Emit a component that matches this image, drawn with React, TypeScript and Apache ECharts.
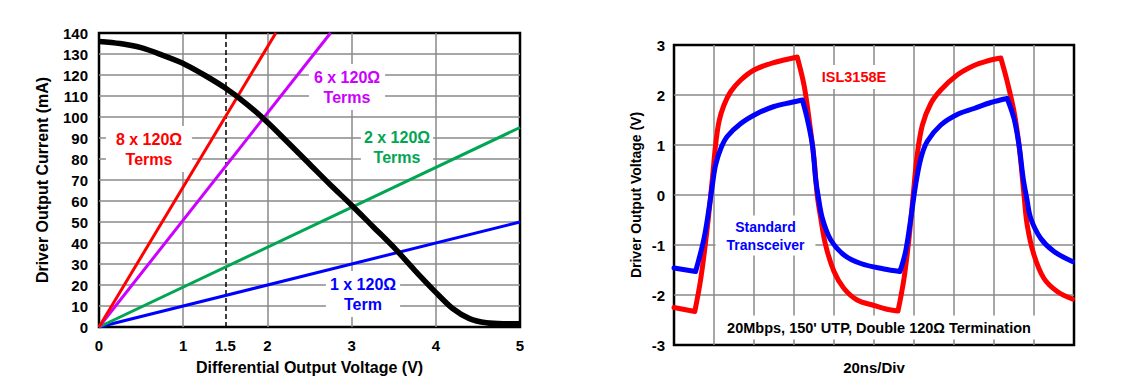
import React, { useEffect, useRef } from "react";
import * as echarts from "echarts";

// ---------- Left chart data ----------
const leftXTickLabels = [0, 1, 1.5, 2, 3, 4, 5];
const driverCurrent: [number, number][] = [
  [0, 136], [0.25, 135], [0.5, 133], [0.75, 129.5], [1, 125.5], [1.25, 120],
  [1.5, 113.8], [1.75, 106.3], [2, 97.5], [2.25, 87.6], [2.5, 77.6], [2.75, 67.6],
  [3, 58], [3.25, 48], [3.5, 38], [3.75, 27], [4, 16.5], [4.2, 8.8],
  [4.4, 4.0], [4.6, 2.0], [4.8, 1.6], [5, 1.6],
];
const load8Terms: [number, number][] = [[0, 0], [2.1, 140]];
const load6Terms: [number, number][] = [[0, 0], [2.75, 140]];
const load2Terms: [number, number][] = [[0, 0], [5, 95]];
const load1Term: [number, number][] = [[0, 0], [5, 50]];
const markerVoltage = 1.5;

// ---------- Right chart data (x in 20ns divisions), split at the sharp corners ----------
const islStart: [number, number][] = [[0, -2.25], [0.52, -2.33]];
const islRise1: [number, number][] = [
  [0.52, -2.33], [0.67, -1.67], [0.83, -0.67], [0.96, 0.33], [1.04, 1.0], [1.125, 1.47],
  [1.25, 1.8], [1.42, 2.07], [1.67, 2.3], [2.0, 2.5], [2.42, 2.63], [2.75, 2.7], [3.08, 2.76],
];
const islFall1: [number, number][] = [
  [3.08, 2.76], [3.25, 2.2], [3.375, 1.53], [3.5, 0.73], [3.58, 0.0], [3.67, -0.47],
  [3.79, -1.0], [4.0, -1.53], [4.25, -1.87], [4.58, -2.1], [5.0, -2.21], [5.3, -2.28], [5.6, -2.32],
];
const islRise2: [number, number][] = [
  [5.6, -2.32], [5.75, -1.67], [5.875, -0.87], [5.98, 0.0], [6.08, 0.8], [6.21, 1.4],
  [6.42, 1.83], [6.67, 2.1], [7.08, 2.4], [7.5, 2.59], [7.83, 2.68], [8.17, 2.74],
];
const islFall2: [number, number][] = [
  [8.17, 2.74], [8.33, 2.27], [8.5, 1.67], [8.625, 1.0], [8.75, 0.0], [8.83, -0.6],
  [9.0, -1.2], [9.25, -1.67], [9.58, -1.93], [9.96, -2.08],
];

const stdStart: [number, number][] = [[0, -1.46], [0.54, -1.53]];
const stdRise1: [number, number][] = [
  [0.54, -1.53], [0.75, -0.87], [0.875, -0.27], [0.96, 0.2], [1.04, 0.6], [1.17, 0.93],
  [1.33, 1.17], [1.67, 1.43], [2.08, 1.63], [2.5, 1.77], [2.92, 1.85], [3.21, 1.9],
];
const stdFall1: [number, number][] = [
  [3.21, 1.9], [3.33, 1.53], [3.46, 1.0], [3.54, 0.33], [3.6, 0.0], [3.71, -0.47],
  [3.92, -0.9], [4.25, -1.2], [4.67, -1.37], [5.25, -1.48], [5.65, -1.53],
];
const stdRise2: [number, number][] = [
  [5.65, -1.53], [5.79, -1.13], [5.92, -0.47], [6.04, 0.2], [6.17, 0.73], [6.33, 1.07],
  [6.67, 1.4], [7.08, 1.61], [7.5, 1.73], [7.92, 1.85], [8.33, 1.93],
];
const stdFall2: [number, number][] = [
  [8.33, 1.93], [8.5, 1.53], [8.625, 1.0], [8.73, 0.33], [8.82, -0.07], [8.92, -0.47],
  [9.17, -0.87], [9.5, -1.13], [9.96, -1.33],
];

const FONT = '"Liberation Sans", Arial, sans-serif';
const GRID_COLOR = "#8a8a8a";
const RED = "#ff0000";
const PURPLE = "#cc00ff";
const GREEN = "#00a651";
const BLUE = "#0000ff";

const tickText = { fontFamily: FONT, fontWeight: "bold" as const, fontSize: 15, color: "#000" };

function joinSegments(segs: [number, number][][]): any[] {
  const out: any[] = [];
  segs.forEach((s, i) => {
    if (i > 0) out.push([NaN, NaN]);
    s.forEach((p) => out.push(p));
  });
  return out;
}

function annot(text: string, x: number, y: number, color: string, size: number, lh: number, pad: number[]) {
  return {
    type: "text",
    x,
    y,
    z: 1,
    silent: true,
    style: {
      text,
      fill: color,
      font: `bold ${size}px ${FONT}`,
      align: "center",
      verticalAlign: "middle",
      lineHeight: lh,
      backgroundColor: "#ffffff",
      padding: pad,
    },
  };
}

export default function App() {
  const ref = useRef<HTMLDivElement>(null);
  useEffect(() => {
    if (!ref.current) return;
    const chart = echarts.init(ref.current, undefined, { renderer: "svg" });
    const lineSeries = (name: string, data: any[], color: string, width: number, idx: number, extra: any = {}) => ({
      name,
      type: "line",
      xAxisIndex: idx,
      yAxisIndex: idx,
      data,
      symbol: "none",
      showSymbol: false,
      silent: true,
      connectNulls: false,
      lineStyle: { color, width, cap: "round", join: "round" },
      z: 3,
      ...extra,
    });
    const option: any = {
      animation: false,
      backgroundColor: "#ffffff",
      textStyle: { fontFamily: FONT, fontWeight: "bold" },
      grid: [
        { left: 99, top: 33, width: 421, height: 294, show: true, borderColor: "#000", borderWidth: 2.5, backgroundColor: "transparent", containLabel: false, outerBoundsMode: "none" },
        { left: 674, top: 45, width: 400, height: 300, show: true, borderColor: "#000", borderWidth: 2.5, backgroundColor: "transparent", containLabel: false, outerBoundsMode: "none" },
      ],
      xAxis: [
        {
          gridIndex: 0, type: "value", min: 0, max: 5, interval: 1,
          axisLine: { show: false }, axisTick: { show: false },
          axisLabel: { ...tickText, margin: 11, customValues: leftXTickLabels },
          splitLine: { show: true, showMinLine: false, showMaxLine: false, lineStyle: { color: GRID_COLOR, width: 1.5 } },
          name: "Differential Output Voltage (V)", nameLocation: "middle", nameGap: 32, nameMoveOverlap: false,
          nameTextStyle: { fontFamily: FONT, fontWeight: "bold", fontSize: 16, color: "#000" },
        },
        {
          gridIndex: 1, type: "value", min: 0, max: 10, interval: 1,
          axisLine: { show: false }, axisTick: { show: false }, axisLabel: { show: false },
          splitLine: { show: true, showMinLine: false, showMaxLine: false, lineStyle: { color: GRID_COLOR, width: 1.5 } },
          name: "20ns/Div", nameLocation: "middle", nameGap: 15, nameMoveOverlap: false,
          nameTextStyle: { fontFamily: FONT, fontWeight: "bold", fontSize: 15, color: "#000" },
        },
      ],
      yAxis: [
        {
          gridIndex: 0, type: "value", min: 0, max: 140, interval: 10,
          axisLine: { show: false }, axisTick: { show: false },
          axisLabel: { ...tickText, margin: 11 },
          splitLine: { show: true, showMinLine: false, showMaxLine: false, lineStyle: { color: GRID_COLOR, width: 1.5 } },
          name: "Driver Output Current (mA)", nameLocation: "middle", nameGap: 49, nameMoveOverlap: false,
          nameTextStyle: { fontFamily: FONT, fontWeight: "bold", fontSize: 16, color: "#000" },
        },
        {
          gridIndex: 1, type: "value", min: -3, max: 3, interval: 1,
          axisLine: { show: false }, axisTick: { show: false },
          axisLabel: { ...tickText, margin: 9 },
          splitLine: { show: true, showMinLine: false, showMaxLine: false, lineStyle: { color: GRID_COLOR, width: 1.5 } },
          name: "Driver Output Voltage (V)", nameLocation: "middle", nameGap: 31, nameMoveOverlap: false,
          nameTextStyle: { fontFamily: FONT, fontWeight: "bold", fontSize: 14, color: "#000" },
        },
      ],
      series: [
        lineSeries("1 x 120Ω Term", load1Term, BLUE, 3, 0, { lineStyle: { color: BLUE, width: 3, cap: "butt" } }),
        lineSeries("2 x 120Ω Terms", load2Terms, GREEN, 3, 0, { lineStyle: { color: GREEN, width: 3, cap: "butt" } }),
        lineSeries("6 x 120Ω Terms", load6Terms, PURPLE, 3, 0, { lineStyle: { color: PURPLE, width: 3, cap: "butt" } }),
        lineSeries("8 x 120Ω Terms", load8Terms, RED, 3, 0, { lineStyle: { color: RED, width: 3, cap: "butt" } }),
        lineSeries("Driver Output Current", driverCurrent, "#000", 5.5, 0, {
          smooth: 0.3,
          lineStyle: { color: "#000", width: 5.5, cap: "butt", join: "round" },
          markLine: {
            silent: true,
            symbol: "none",
            label: { show: false },
            lineStyle: { color: "#000", width: 1.5, type: [5, 3] },
            data: [{ xAxis: markerVoltage }],
            z: 2,
          },
        }),
        lineSeries("ISL3158E", joinSegments([islStart, islRise1, islFall1, islRise2, islFall2]), RED, 5, 1, { smooth: 0.35 }),
        lineSeries("Standard Transceiver", joinSegments([stdStart, stdRise1, stdFall1, stdRise2, stdFall2]), BLUE, 5, 1, { smooth: 0.35 }),
      ],
      graphic: [
        annot("8 x 120Ω\nTerms", 149, 149, RED, 16, 20, [3, 10]),
        annot("6 x 120Ω\nTerms", 347, 87, PURPLE, 16, 20, [3, 5]),
        annot("2 x 120Ω\nTerms", 397, 147, GREEN, 16, 20, [3, 3]),
        annot("1 x 120Ω\nTerm", 363, 294, BLUE, 16, 20, [3, 4]),
        annot("ISL3158E", 854, 77, RED, 14.5, 18, [3, 6]),
        annot("Standard\nTransceiver", 765.5, 235.5, BLUE, 14, 18, [2, 11]),
        annot("20Mbps, 150' UTP, Double 120Ω Termination", 879, 327.5, "#000", 14.5, 18, [3, 10]),
      ],
    };
    chart.setOption(option);
    return () => chart.dispose();
  }, []);
  return (
    <div
      ref={ref}
      style={{ position: "absolute", left: 0, top: 0, width: 1143, height: 388, background: "#fff" }}
    />
  );
}
